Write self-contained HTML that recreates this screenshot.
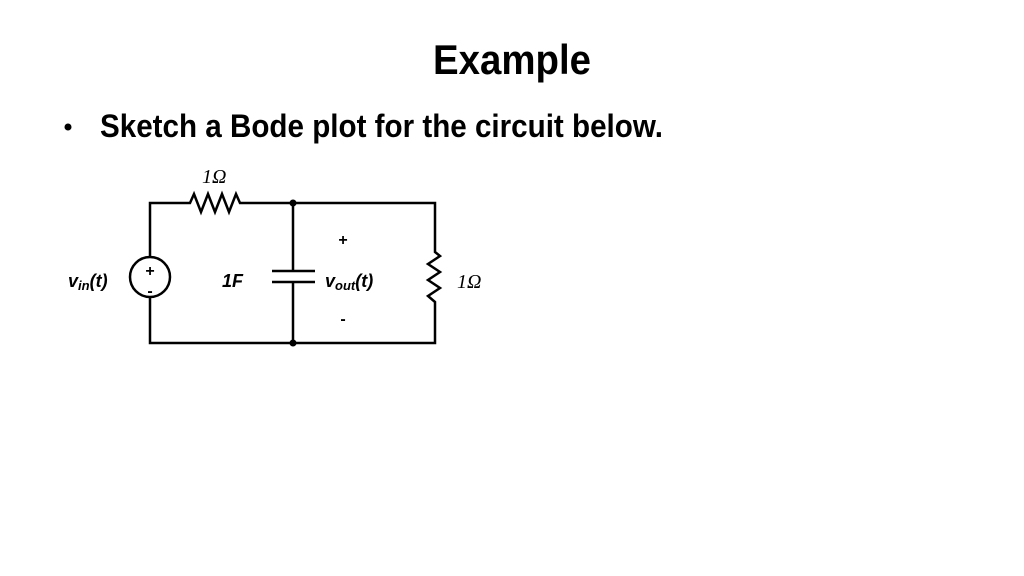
<!DOCTYPE html>
<html><head><style>html,body{margin:0;padding:0;background:#fff;}svg{display:block}</style></head>
<body>
<svg width="1024" height="576" viewBox="0 0 1024 576" xmlns="http://www.w3.org/2000/svg">
<rect width="1024" height="576" fill="#fff"/>
<text x="433" y="74" font-family="Liberation Sans, sans-serif" font-weight="bold" font-size="42" textLength="158" lengthAdjust="spacingAndGlyphs">Example</text>
<circle cx="68" cy="127" r="3.5" fill="#000"/>
<text x="100" y="137" font-family="Liberation Sans, sans-serif" font-weight="bold" font-size="32" textLength="563" lengthAdjust="spacingAndGlyphs">Sketch a Bode plot for the circuit below.</text>
<g stroke="#000" stroke-width="2.5" fill="none" stroke-linejoin="miter">
<polyline points="150,258 150,203 190,203 194,194 201,212 208,194 215,212 222,194 229,212 236,194 240,203 435,203 435,252 440,256 428,264 440,272 428,280 440,288 428,296 435,302 435,343 150,343 150,298"/>
<circle cx="150" cy="277" r="20"/>
<line x1="293" y1="203" x2="293" y2="271"/>
<line x1="293" y1="282" x2="293" y2="343"/>
<line x1="272" y1="271" x2="315" y2="271"/>
<line x1="272" y1="282" x2="315" y2="282"/>
</g>
<circle cx="293" cy="203" r="3.5" fill="#000"/>
<circle cx="293" cy="343" r="3.5" fill="#000"/>
<g font-family="Liberation Sans, sans-serif" font-weight="bold" fill="#000">
<text x="150" y="276" font-size="16" text-anchor="middle">+</text>
<text x="150" y="296" font-size="16" text-anchor="middle">-</text>
<text x="343" y="245" font-size="16" text-anchor="middle">+</text>
<text x="343" y="324" font-size="16" text-anchor="middle">-</text>
<text x="68" y="287" font-size="18" font-style="italic">v<tspan font-size="13" dy="3">in</tspan><tspan dy="-3">(t)</tspan></text>
<text x="222" y="287" font-size="18" font-style="italic">1F</text>
<text x="325" y="287" font-size="18" font-style="italic">v<tspan font-size="13" dy="3">out</tspan><tspan dy="-3">(t)</tspan></text>
</g>
<g font-family="Liberation Serif, serif" font-style="italic" font-size="20" fill="#000">
<text x="202" y="183">1Ω</text>
<text x="457" y="288">1Ω</text>
</g>
</svg>
</body></html>
